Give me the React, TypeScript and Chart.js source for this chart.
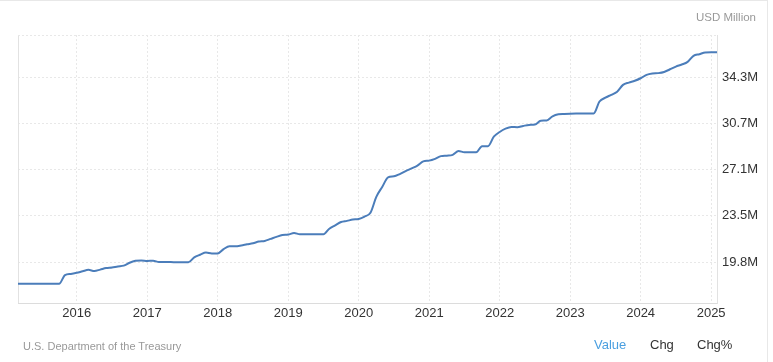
import React, { useEffect, useRef } from "react";
import { Chart, registerables } from "chart.js";

Chart.register(...registerables);

// Monthly series starting March 2015, values in trillions (displayed as "M" of USD Million)
const START_YEAR = 2015;
const START_MONTH = 3;

const debt2015 = [18.15, 18.15, 18.15, 18.15, 18.15, 18.15, 18.15, 18.15, 18.83, 18.92];
const debt2016 = [19.01, 19.13, 19.24, 19.15, 19.26, 19.38, 19.43, 19.51, 19.57, 19.8, 19.95, 19.98];
const debt2017 = [19.94, 19.96, 19.85, 19.85, 19.85, 19.84, 19.84, 19.84, 20.22, 20.42, 20.59, 20.52];
const debt2018 = [20.52, 20.86, 21.09, 21.09, 21.15, 21.24, 21.32, 21.45, 21.5, 21.66, 21.82, 21.96];
const debt2019 = [22.0, 22.12, 22.03, 22.03, 22.03, 22.02, 22.02, 22.46, 22.72, 22.98, 23.07, 23.17];
const debt2020 = [23.22, 23.41, 23.7, 24.95, 25.72, 26.47, 26.55, 26.73, 26.96, 27.17, 27.39, 27.72];
const debt2021 = [27.78, 27.92, 28.13, 28.17, 28.23, 28.53, 28.43, 28.43, 28.43, 28.91, 28.91, 29.65];
const debt2022 = [30.02, 30.28, 30.41, 30.39, 30.49, 30.57, 30.6, 30.9, 30.92, 31.24, 31.4, 31.43];
const debt2023 = [31.45, 31.46, 31.46, 31.46, 31.46, 32.4, 32.7, 32.92, 33.17, 33.7, 33.88, 34.02];
const debt2024 = [34.22, 34.48, 34.59, 34.62, 34.71, 34.92, 35.13, 35.29, 35.5, 35.97, 36.1, 36.24];
const debt2025 = [36.25, 36.25];

const debtValues = [
  ...debt2015, ...debt2016, ...debt2017, ...debt2018, ...debt2019,
  ...debt2020, ...debt2021, ...debt2022, ...debt2023, ...debt2024, ...debt2025,
];

const yearTicks = [2016, 2017, 2018, 2019, 2020, 2021, 2022, 2023, 2024, 2025];
const yTickValues = [19.8, 23.5, 27.1, 30.7, 34.3];
const Y_MIN = 16.65;
const Y_MAX = 37.6;

const unitLabel = "USD Million";
const sourceLabel = "U.S. Department of the Treasury";
const footerTabs = ["Value", "Chg", "Chg%"];

const FONT = "'Liberation Sans', Arial, Helvetica, sans-serif";

const framePlugin = {
  id: "frame",
  beforeDatasetsDraw(chart: any) {
    const { ctx, chartArea } = chart;
    ctx.save();
    ctx.strokeStyle = "#e2e2e2";
    ctx.lineWidth = 1;
    ctx.beginPath();
    ctx.moveTo(Math.round(chartArea.left) + 0.5, chartArea.top);
    ctx.lineTo(Math.round(chartArea.left) + 0.5, chartArea.bottom);
    ctx.stroke();
    ctx.setLineDash([2, 2]);
    ctx.strokeStyle = "#e8e8e8";
    ctx.beginPath();
    ctx.moveTo(chartArea.left, Math.round(chartArea.top) + 0.5);
    ctx.lineTo(chartArea.right, Math.round(chartArea.top) + 0.5);
    ctx.stroke();
    ctx.restore();
  },
};

export default function App() {
  const canvasRef = useRef<HTMLCanvasElement | null>(null);

  useEffect(() => {
    const canvas = canvasRef.current;
    if (!canvas) return;
    const points = debtValues.map((v, i) => ({
      x: START_YEAR + (START_MONTH - 1 + i) / 12,
      y: v,
    }));
    const xMin = points[0].x;
    const xMax = points[points.length - 1].x;

    const chart = new Chart(canvas, {
      type: "line",
      data: {
        datasets: [
          {
            data: points,
            borderColor: "#4b7dba",
            borderWidth: 2,
            pointRadius: 0,
            cubicInterpolationMode: "monotone",
            fill: false,
          },
        ],
      },
      options: {
        responsive: false,
        animation: false,
        layout: { padding: { left: 18, top: 35, right: 0, bottom: 29 } },
        plugins: { legend: { display: false }, tooltip: { enabled: false } },
        scales: {
          x: {
            type: "linear",
            min: xMin,
            max: xMax,
            afterBuildTicks: (scale: any) => {
              scale.ticks = yearTicks.map((v) => ({ value: v }));
            },
            afterFit: (scale: any) => {
              scale.height = 30;
            },
            ticks: {
              autoSkip: false,
              maxRotation: 0,
              padding: 3,
              color: "#333",
              font: { family: FONT, size: 13 },
              callback: (v: any) => String(v),
            },
            grid: { color: "#e8e8e8", drawTicks: false },
            border: { display: true, color: "#dcdcdc", dash: [2, 2] },
          },
          y: {
            type: "linear",
            position: "right",
            min: Y_MIN,
            max: Y_MAX,
            afterBuildTicks: (scale: any) => {
              scale.ticks = yTickValues.map((v) => ({ value: v }));
            },
            afterFit: (scale: any) => {
              scale.width = 56;
            },
            ticks: {
              padding: 5,
              color: "#333",
              font: { family: FONT, size: 13 },
              callback: (v: any) => Number(v).toFixed(1) + "M",
            },
            grid: { color: "#e8e8e8", drawTicks: false },
            border: { display: true, color: "#e2e2e2", dash: [2, 2] },
          },
        },
      },
      plugins: [framePlugin],
    });
    return () => chart.destroy();
  }, []);

  return (
    <div
      style={{
        position: "absolute",
        left: 0,
        top: 0,
        width: 773,
        height: 362,
        background: "#fff",
        fontFamily: FONT,
        overflow: "hidden",
      }}
    >
      <div
        style={{
          position: "absolute",
          left: 0,
          top: 0,
          width: 767,
          height: 362,
          borderTop: "1px solid #e8e8e8",
          borderRight: "1px solid #e8e8e8",
        }}
      />
      <canvas
        ref={canvasRef}
        width={773}
        height={362}
        style={{ position: "absolute", left: 0, top: 0, width: 773, height: 362 }}
      />
      <div
        style={{
          position: "absolute",
          right: 17,
          top: 10,
          fontSize: 11.5,
          lineHeight: "14px",
          color: "#999",
          whiteSpace: "nowrap",
        }}
      >
        {unitLabel}
      </div>
      <div
        style={{
          position: "absolute",
          left: 23,
          top: 339,
          fontSize: 11,
          lineHeight: "14px",
          color: "#999",
          whiteSpace: "nowrap",
        }}
      >
        {sourceLabel}
      </div>
      {footerTabs.map((t, i) => (
        <div
          key={t}
          style={{
            position: "absolute",
            left: [594, 650, 697][i],
            top: 337,
            fontSize: 13,
            lineHeight: "16px",
            color: i === 0 ? "#4a9fe0" : "#333",
            whiteSpace: "nowrap",
          }}
        >
          {t}
        </div>
      ))}
    </div>
  );
}
